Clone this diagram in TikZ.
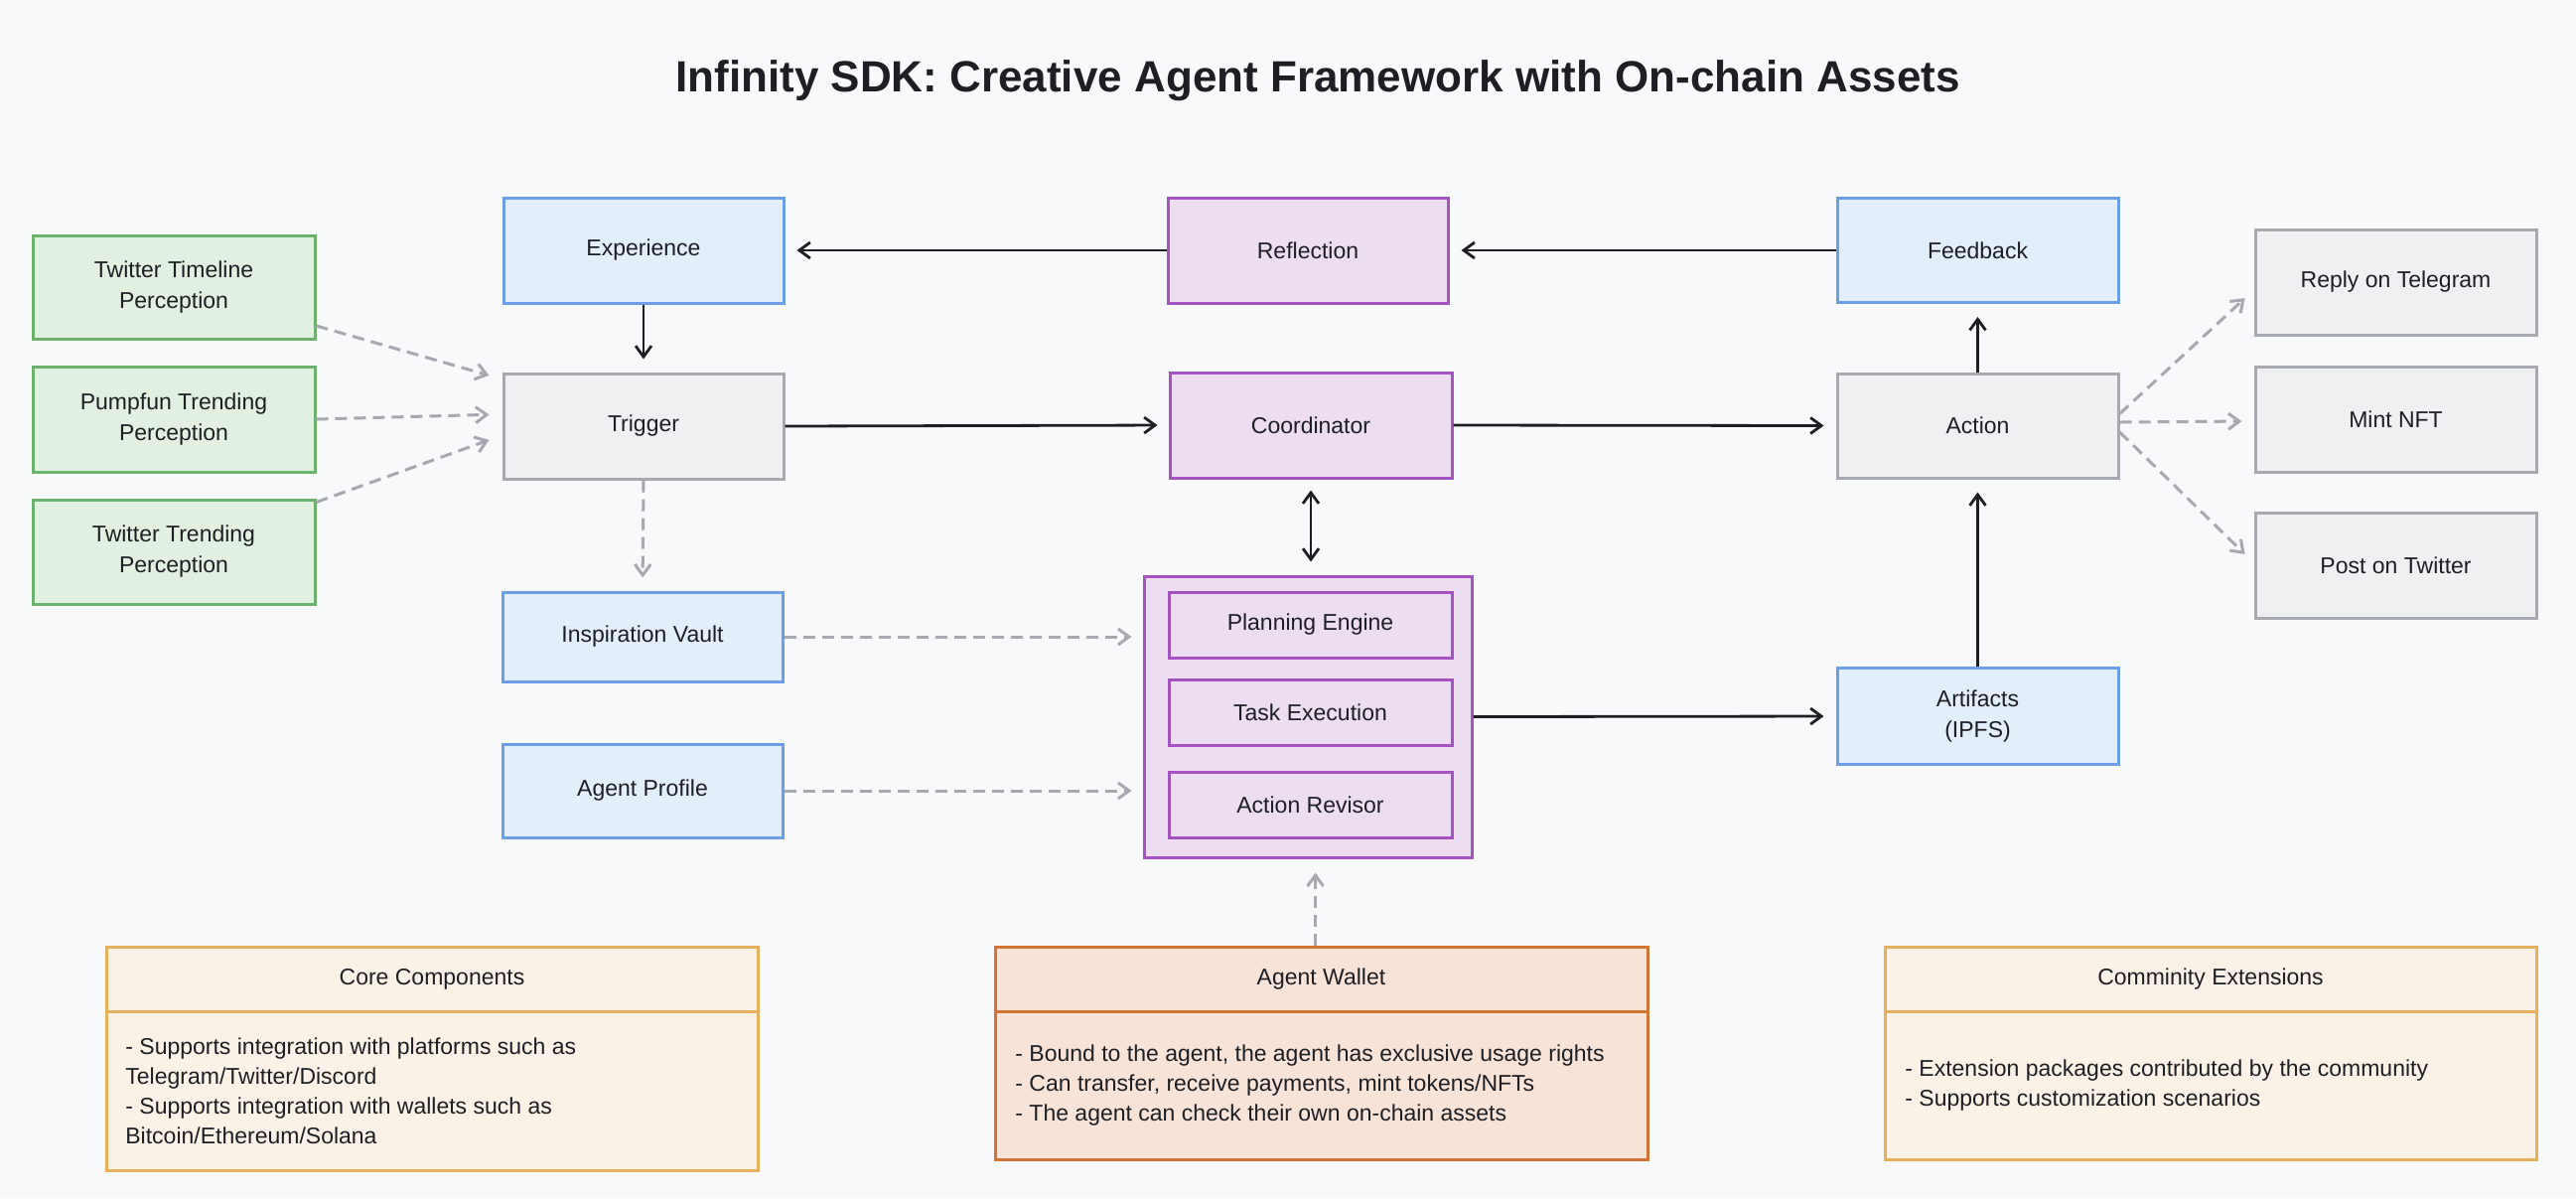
\documentclass[tikz,border=0pt]{standalone}
\usepackage{fontspec}
\setmainfont{Liberation Sans}
\usetikzlibrary{arrows.meta,calc}
\definecolor{bgc}{HTML}{F8F9FB}
\definecolor{ink}{HTML}{1E1F24}
\definecolor{greenF}{HTML}{E1F0E0}
\definecolor{greenD}{HTML}{6BB36A}
\definecolor{blueF}{HTML}{E2EEFA}
\definecolor{blueD}{HTML}{6B9EE6}
\definecolor{grayF}{HTML}{EFF0F2}
\definecolor{grayD}{HTML}{A6A9B0}
\definecolor{purpF}{HTML}{ECDDF1}
\definecolor{purpD}{HTML}{A552C2}
\definecolor{creamF}{HTML}{FAF2E7}
\definecolor{creamD}{HTML}{E6B05C}
\definecolor{walF}{HTML}{F7E3D7}
\definecolor{walD}{HTML}{D27433}
\definecolor{dashc}{HTML}{A6A9B0}
\tikzset{
  sz/.style 2 args={minimum width=#1*0.5pt, minimum height=#2*0.5pt},
  box/.style={draw, line width=1.5pt, inner sep=0pt, align=center, text=ink,
    font=\fontsize{11.5}{15.5}\selectfont},
  gbox/.style={box, fill=greenF, draw=greenD},
  bbox/.style={box, fill=blueF, draw=blueD},
  ybox/.style={box, fill=grayF, draw=grayD},
  pbox/.style={box, fill=purpF, draw=purpD},
  cbox/.style={box, fill=creamF, draw=creamD},
  wbox/.style={box, fill=walF, draw=walD},
  bodytext/.style={anchor=west, align=left, inner sep=0pt, text=ink,
    font=\fontsize{11.5}{15}\selectfont},
  arr/.style={line width=1.4pt, draw=ink,
    -{Straight Barb[length=5.5pt,width=8pt]}},
  dbl/.style={line width=1.4pt, draw=ink,
    {Straight Barb[length=5.5pt,width=8pt]}-{Straight Barb[length=5.5pt,width=8pt]}},
  darr/.style={line width=1.5pt, draw=dashc, dash pattern=on 6pt off 3.5pt,
    -{Straight Barb[length=5.5pt,width=8pt]}},
}
\begin{document}
\begin{tikzpicture}[x=0.5pt,y=-0.5pt]
\fill[bgc] (0,0) rectangle (2594,1206);
\useasboundingbox (0,0) rectangle (2594,1206);

\node[anchor=base, text=ink, inner sep=0pt, font=\fontsize{22}{26}\selectfont\bfseries] (title) at (1327,92)
  {Infinity SDK: Creative Agent Framework with On-chain Assets};

% left perceptions
\node[gbox, sz={284}{104}] (ttp) at (175,289) {Twitter Timeline\\Perception};
\node[gbox, sz={284}{106}] (pump) at (175,422) {Pumpfun Trending\\Perception};
\node[gbox, sz={284}{105}] (ttr) at (175,555.5) {Twitter Trending\\Perception};

% second column
\node[bbox, sz={282}{106}] (exp) at (648,252) {Experience};
\node[ybox, sz={282}{106}] (trig) at (648,429) {Trigger};
\node[bbox, sz={282}{90}] (insp) at (647,641) {Inspiration Vault};
\node[bbox, sz={282}{94}] (prof) at (647,796) {Agent Profile};

% middle column
\node[pbox, sz={282}{106}] (refl) at (1317,252) {Reflection};
\node[pbox, sz={284}{106}] (coord) at (1320,428) {Coordinator};
\node[pbox, sz={330}{283}] (cont) at (1317,721.5) {};
\node[pbox, sz={285}{66}] (plan) at (1319.5,629) {Planning Engine};
\node[pbox, sz={285}{66}] (task) at (1319.5,717) {Task Execution};
\node[pbox, sz={285}{66}] (rev) at (1319.5,810) {Action Revisor};

% right column
\node[bbox, sz={283}{105}] (fb) at (1991.5,252) {Feedback};
\node[ybox, sz={283}{105}] (act) at (1991.5,428.5) {Action};
\node[bbox, sz={283}{97}] (art) at (1991.5,721) {Artifacts\\(IPFS)};

% outputs
\node[ybox, sz={283}{106}] (reply) at (2412.5,284) {Reply on Telegram};
\node[ybox, sz={283}{106}] (mint) at (2412.5,422) {Mint NFT};
\node[ybox, sz={283}{106}] (post) at (2412.5,569) {Post on Twitter};

% bottom boxes
\node[cbox, sz={656}{65}] (coreh) at (435,985.5) {Core Components};
\node[cbox, sz={656}{160}] (coreb) at (435,1098) {};
\node[bodytext] (coret) at (126,1098) {- Supports integration with platforms such as\\Telegram/Twitter/Discord\\- Supports integration with wallets such as\\Bitcoin/Ethereum/Solana};

\node[wbox, sz={657}{65}] (walh) at (1330.5,985.5) {Agent Wallet};
\node[wbox, sz={657}{149}] (walb) at (1330.5,1092.5) {};
\node[bodytext] (walt) at (1022,1092.5) {- Bound to the agent, the agent has exclusive usage rights\\- Can transfer, receive payments, mint tokens/NFTs\\- The agent can check their own on-chain assets};

\node[cbox, sz={656}{65}] (comh) at (2226,985.5) {Comminity Extensions};
\node[cbox, sz={656}{149}] (comb) at (2226,1092.5) {};
\node[bodytext] (comt) at (1918,1092.5) {- Extension packages contributed by the community\\- Supports customization scenarios};

% solid arrows
\draw[arr, shorten >=6pt] (refl.west) -- (exp.east);
\draw[arr, shorten >=6pt] (fb.west) -- (refl.east);
\draw[arr, shorten >=6.5pt] (exp.south) -- (trig.north);
\draw[arr, shorten >=5.5pt] (trig.east) -- (coord.west);
\draw[arr, shorten >=6pt] (coord.east) -- (act.west);
\draw[arr, shorten >=6.5pt] (act.north) -- (fb.south);
\draw[arr, shorten >=6.5pt] (art.north) -- (act.south);
\draw[arr, shorten >=6pt] (cont.east) -- (art.west);
\draw[dbl, shorten >=6.5pt, shorten <=5.5pt] (coord.south) -- (coord.south |- cont.north);

% dashed arrows
\draw[darr, shorten >=6.75pt] ([yshift=-19.5pt]ttp.east) -- ([yshift=23.7pt]trig.west);
\draw[darr, shorten >=6.5pt] (pump.east) -- ([yshift=6pt]trig.west);
\draw[darr, shorten >=6.9pt] ([yshift=25pt]ttr.east) -- ([yshift=-4.6pt]trig.west);
\draw[darr, shorten >=6.5pt] (trig.south) -- (insp.north);
\draw[darr, shorten >=5.5pt] (insp.east) -- (insp.east -| cont.west);
\draw[darr, shorten >=5.5pt] (prof.east) -- (prof.east -| cont.west);
\draw[darr, shorten >=7pt] ([xshift=-3pt]walh.north) -- ([xshift=-3pt]walh.north |- cont.south);
\draw[darr, shorten >=6pt] ([yshift=6pt]act.east) -- ([yshift=-4pt]reply.west);
\draw[darr, shorten >=6pt] ([yshift=1.75pt]act.east) -- ([yshift=-1pt]mint.west);
\draw[darr, shorten >=6.25pt] ([yshift=-3.25pt]act.east) -- ([yshift=1.2pt]post.west);
\end{tikzpicture}
\end{document}
